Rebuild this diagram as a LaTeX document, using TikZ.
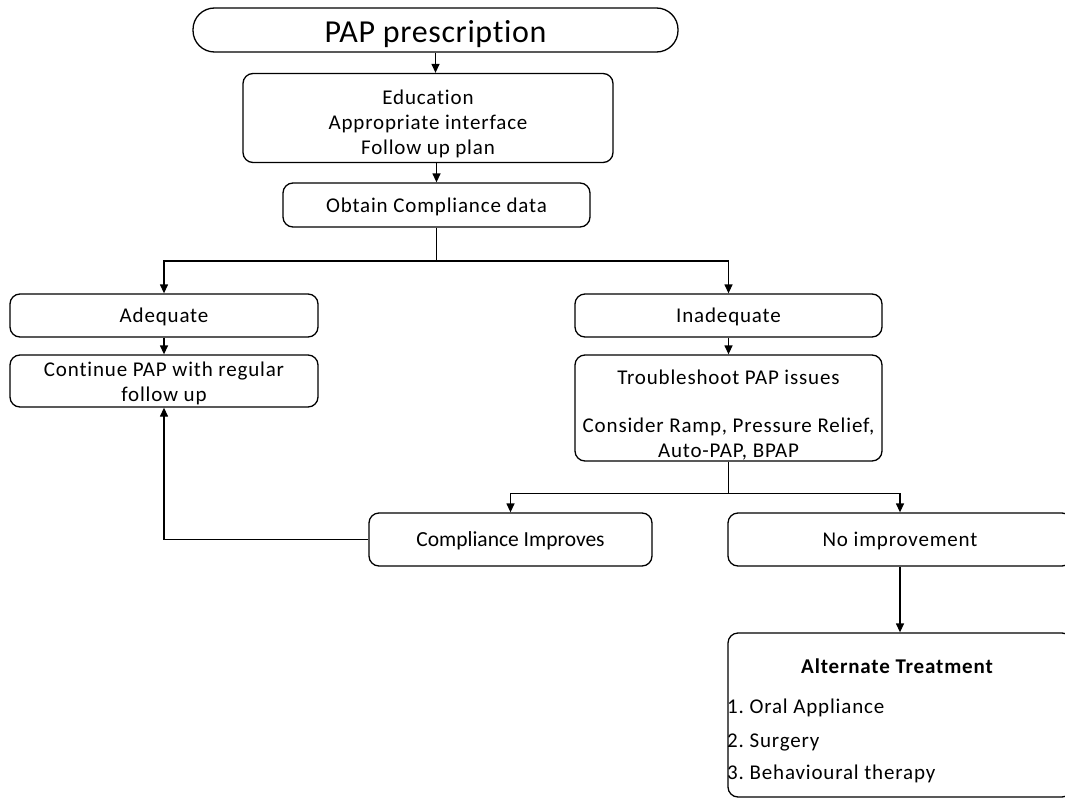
\documentclass[tikz,border=0pt]{standalone}
\usepackage{fontspec}
\setmainfont{Carlito}[LetterSpace=4,Ligatures=NoCommon]
\newfontfamily\plainfont{Carlito}[Ligatures=NoCommon]
\newfontfamily\termfont{Carlito}[LetterSpace=2,Ligatures=NoCommon]
\usetikzlibrary{arrows.meta}
\begin{document}
\frenchspacing
\begin{tikzpicture}[x=1pt,y=-1pt,
  box/.style={draw=black, line width=1.3pt, rounded corners=10pt, align=center,
    inner sep=0pt, font=\fontsize{21}{25}\selectfont},
  term/.style={draw=black, line width=1.3pt, rounded corners=21.5pt, align=center,
    inner sep=0pt, font=\fontsize{32}{36}\termfont},
  item/.style={anchor=west, inner sep=0pt, font=\fontsize{21}{25}\selectfont},
  conn/.style={line width=1.3pt},
  arr/.style={line width=1.3pt, -{Triangle[length=9pt,width=8pt]}}
]
\useasboundingbox (0,0) rectangle (1065,800);
\clip (0,0) rectangle (1065,800);
\node[term, minimum width=485pt, minimum height=44pt] (top) at (435.5,30) {\rule{0pt}{30pt}PAP prescription};
\node[box, minimum width=370pt, minimum height=89pt] (edu) at (428,118) {\rule{0pt}{27pt}Education\\Appropriate interface\\Follow up plan};
\node[box, minimum width=307pt, minimum height=44pt] (obtain) at (436.5,205) {\rule{0pt}{18pt}Obtain Compliance data};
\node[box, minimum width=308pt, minimum height=43pt] (adeq) at (164,315.5) {\rule{0pt}{17pt}Adequate};
\node[box, minimum width=308pt, minimum height=52pt] (cont) at (164,381) {\rule{0pt}{19pt}Continue PAP with regular\\follow up};
\node[box, minimum width=307pt, minimum height=43pt] (inadeq) at (728.5,315.5) {\rule{0pt}{17pt}Inadequate};
\node[box, minimum width=307pt, minimum height=106pt] (trouble) at (728.5,408) {\rule{0pt}{29pt}Troubleshoot PAP issues\\[23pt]Consider Ramp, Pressure Relief,\\Auto-PAP, BPAP};
\node[box, minimum width=283pt, minimum height=53pt, font=\fontsize{21.5}{25}\plainfont] (improves) at (510.5,539.5) {\rule{0pt}{17pt}Compliance Improves};
\node[box, minimum width=344pt, minimum height=53pt] (noimp) at (900,539.5) {\rule{0pt}{17pt}No improvement};
\node[box, minimum width=344pt, minimum height=164pt] (alt) at (900,715) {};
\node[inner sep=0pt, font=\fontsize{21}{25}\selectfont\bfseries] (alttitle) at (897,666) {Alternate Treatment};
\node[item] (i1) at (727,708) {1. Oral Appliance};
\node[item] (i2) at (727,742) {2. Surgery};
\node[item] (i3) at (727,774) {3. Behavioural therapy};

\coordinate (s1) at (obtain.south |- 0,261);
\coordinate (s2) at (trouble.south |- 0,493.5);

\draw[arr] (top.south) -- (top.south |- edu.north);
\draw[arr] (edu.south -| obtain.north) -- (obtain.north);
\draw[conn] (obtain.south) -- (s1);
\draw[arr] (s1) -| (adeq.north);
\draw[arr] (s1) -| (inadeq.north);
\draw[arr] (adeq.south) -- (cont.north);
\draw[arr] (inadeq.south) -- (trouble.north);
\draw[conn] (trouble.south) -- (s2);
\draw[arr] (s2) -| (improves.north);
\draw[arr] (s2) -| (noimp.north);
\draw[arr] (improves.west) -| (cont.south);
\draw[arr] (noimp.south) -- (alt.north);
\end{tikzpicture}
\end{document}
